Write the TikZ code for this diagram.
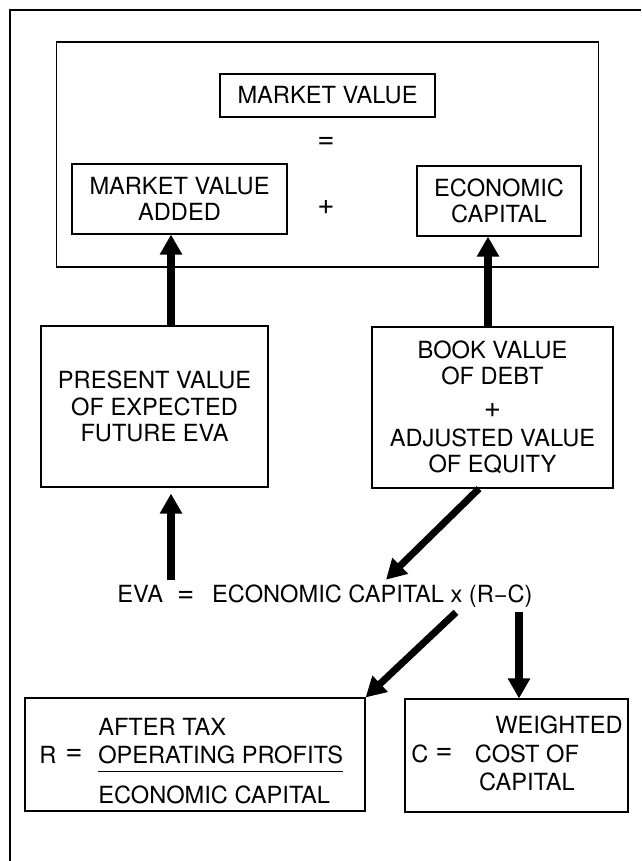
\documentclass[tikz,border=0pt]{standalone}
\usepackage{fontspec}
\setmainfont{TeX Gyre Heros}
\usetikzlibrary{arrows.meta}
\newcommand{\eqsign}{{\fontsize{21}{18}\selectfont =}}
\newcommand{\plussign}{{\fontsize{21}{18}\selectfont +}}

\begin{document}
\begin{tikzpicture}[x=0.025cm, y=-0.025cm]
    \tikzstyle{every node}=[font=\fontsize{16.8}{18.6}\selectfont]
    \tikzstyle{box}=[rectangle, draw, line width=0.8pt, inner sep=0pt, align=center]
    \tikzstyle{lbl}=[inner sep=0pt]
    \tikzstyle{bigarrow}=[line width=5pt, -{Triangle[length=0.5cm, width=0.53cm]}]
    \useasboundingbox (0,0) rectangle (641,861);
    \draw[line width=0.8pt] (641,10) -- (10,10) -- (10,861);

    % top block
    \node[box, minimum width=13.525cm, minimum height=5.625cm] (frame) at (327.5,154.5) {};
    \node[box, minimum width=5.375cm, minimum height=1.075cm] (mv) at (327.5,95.5) {MARKET VALUE};
    \node (eqtop) at (326,143) {\eqsign};
    \node[box, minimum width=5.375cm, minimum height=1.75cm] (mva) at (179.5,199) {MARKET VALUE\\ADDED};
    \node (plustop) at (326,207) {\plussign};
    \node[box, minimum width=4.1cm, minimum height=1.75cm] (ec) at (499,201) {ECONOMIC\\CAPITAL};

    % middle boxes
    \node[box, minimum width=5.675cm, minimum height=4.025cm] (pv) at (154.5,406.5)
        {PRESENT VALUE\\OF EXPECTED\\FUTURE EVA};
    \node[box, minimum width=6.025cm, minimum height=4.025cm] (bv) at (492.5,407.5)
        {BOOK VALUE\\OF DEBT\\[5pt]\plussign\\[2pt]ADJUSTED VALUE\\OF EQUITY};

    \node (eva) at (325,596) {EVA\hspace{0.6em}\eqsign\hspace{0.75em}ECONOMIC CAPITAL x (R−C)};

    % bottom boxes
    \node[box, minimum width=8.5cm, minimum height=2.825cm] (r) at (195,754.5) {};
    \node (rR) at (48,755) {R};
    \node (rEq) at (74,755) {\eqsign};
    \node[lbl, anchor=west] (rTop) at (98,727) {AFTER TAX};
    \node[lbl, anchor=base west] (rMid) at (98,763.5) {OPERATING PROFITS};
    \node[lbl, anchor=west] (rBot) at (98,795) {ECONOMIC CAPITAL};
    \draw[line width=0.8pt] ([yshift=-0.21cm]rMid.base west) -- ([yshift=-0.21cm]rMid.base east);

    \node[box, minimum width=5.575cm, minimum height=2.825cm] (c) at (516.5,755.5) {};
    \node (cC) at (420,754) {C};
    \node (cEq) at (444,754) {\eqsign};
    \node (cTop) at (559,725) {WEIGHTED};
    \node (cMid) at (527,754) {COST OF};
    \node (cBot) at (527,782) {CAPITAL};

    % arrows
    \coordinate (colL) at (171,0);
    \coordinate (colR) at (488,0);
    \coordinate (colC) at (519,0);
    \coordinate (outA) at (479,0);
    \coordinate (inA) at (386,0);
    \coordinate (outB) at (456,0);

    \draw[bigarrow] (pv.north -| colL) -- (mva.south -| colL);
    \draw[bigarrow] (bv.north -| colR) -- (ec.south -| colR);
    \draw[bigarrow, shorten >=0.15cm] (eva.north -| colL) -- (pv.south -| colL);
    \draw[bigarrow] (bv.south -| outA) -- (eva.north -| inA);
    \draw[bigarrow] (eva.south -| outB) -- (r.north east);
    \draw[bigarrow] (eva.south -| colC) -- (c.north -| colC);

\end{tikzpicture}
\end{document}
